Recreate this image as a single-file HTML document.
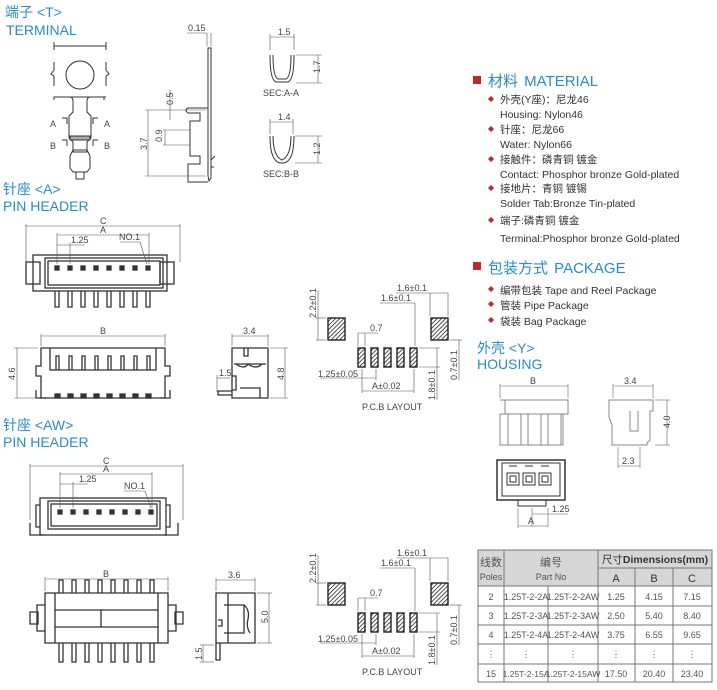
<!DOCTYPE html>
<html><head><meta charset="utf-8"><style>
html,body{margin:0;padding:0;background:#fff;}
svg{display:block;}
.t{font-family:"Liberation Sans","Noto Sans CJK SC",sans-serif;}
</style></head><body>
<svg width="717" height="690" viewBox="0 0 717 690" xmlns="http://www.w3.org/2000/svg" class="t">
<defs>
<pattern id="h" width="3" height="3" patternUnits="userSpaceOnUse" patternTransform="rotate(45)"><rect width="3" height="3" fill="#fff"/><line x1="0" y1="0" x2="0" y2="3" stroke="#222" stroke-width="1.6"/></pattern>
</defs>
<g fill="#2a8cc4" font-size="14">
<text x="5" y="17">端子 &lt;T&gt;</text><text x="6" y="35">TERMINAL</text>
<text x="3" y="194">针座 &lt;A&gt;</text><text x="3" y="211">PIN HEADER</text>
<text x="3" y="430">针座 &lt;AW&gt;</text><text x="3" y="447">PIN HEADER</text>
<text x="477" y="353">外壳 &lt;Y&gt;</text><text x="477" y="369">HOUSING</text>
</g>
<!-- terminal -->
<g fill="none" stroke="#333" stroke-width="1">
<line x1="54" y1="46" x2="106" y2="46"/><line x1="54" y1="42" x2="54" y2="50"/><line x1="106" y1="42" x2="106" y2="50"/>
<circle cx="80" cy="75" r="14"/>
<path d="M54,62 v8 l-3,4 l3,2 v10 M106,62 v8 l3,4 l-3,2 v10"/>
<path d="M54,100 v-3 h50 v3 M54,97 h16 q3,0 3,5 v10 l-4,4 v22 l4,4 v10 h14 v-10 l4,-4 v-22 l-4,-4 v-10 q0,-5 3,-5 h16"/>
<rect x="70" y="136" width="20" height="4" fill="#aaa"/>
<path d="M73,150 l-3,6 v12 l3,4 h14 l3,-4 v-12 l-3,-6z M76,172 v7 h8 v-7"/>
<path d="M62,118 h5 v6 M98,118 h-5 v6 M62,140 h5 v6 M98,140 h-5 v6"/>
<path d="M208,48 h3 v130 l-2,3 l-1,-5z"/>
<path d="M208,108 h-20 q-4,2 0,5 h12 v8 h-10 v35 h10 v8 h-12 v18 h20"/>
<path d="M211,160 l4,-4 M211,167 l3,0"/>
<g stroke="#555" stroke-width=".6">
<line x1="187" y1="33" x2="207" y2="33"/><line x1="207" y1="33" x2="207" y2="46"/><line x1="211" y1="33" x2="211" y2="46"/>
<line x1="145" y1="110" x2="206" y2="110"/><line x1="145" y1="176" x2="206" y2="176"/><line x1="148" y1="110" x2="148" y2="176"/>
<line x1="170" y1="90" x2="170" y2="120"/><line x1="163" y1="130" x2="190" y2="130"/><line x1="163" y1="145" x2="190" y2="145"/><line x1="165" y1="130" x2="165" y2="145"/>
</g>
<path d="M270,55 q0,25 6,27 h12 q6,-2 6,-27 M273,55 q0,22 5,24 h8 q5,-2 5,-24" />
<path d="M270,136 q0,25 10,27 h4 q10,-2 10,-27 M273,136 q0,20 9,24 q9,-4 9,-24"/>
<g stroke="#555" stroke-width=".6">
<line x1="270" y1="37" x2="294" y2="37"/><line x1="270" y1="34" x2="270" y2="50"/><line x1="294" y1="34" x2="294" y2="50"/>
<line x1="296" y1="55" x2="322" y2="55"/><line x1="296" y1="83" x2="322" y2="83"/><line x1="318" y1="55" x2="318" y2="83"/>
<line x1="270" y1="122" x2="293" y2="122"/><line x1="270" y1="119" x2="270" y2="134"/><line x1="293" y1="119" x2="293" y2="134"/>
<line x1="295" y1="136" x2="322" y2="136"/><line x1="295" y1="163" x2="322" y2="163"/><line x1="318" y1="136" x2="318" y2="163"/>
</g>
</g>
<g font-size="9" fill="#444">
<text x="188" y="31">0.15</text><text x="278" y="35">1.5</text><text x="278" y="120">1.4</text>
<text x="263" y="96">SEC:A-A</text><text x="263" y="177">SEC:B-B</text>
<text transform="translate(173,105) rotate(-90)">0.5</text><text transform="translate(162,142) rotate(-90)">0.9</text>
<text transform="translate(147,150) rotate(-90)">3.7</text>
<text transform="translate(320,73) rotate(-90)">1.7</text><text transform="translate(320,155) rotate(-90)">1.2</text>
<text x="50" y="127">A</text><text x="104" y="127">A</text><text x="50" y="149">B</text><text x="104" y="149">B</text>
</g>
<!-- PIN HEADER A -->
<g fill="none" stroke="#333" stroke-width="1.3">
<rect x="33" y="255" width="134" height="36"/><rect x="45" y="258" width="118" height="30"/><rect x="48" y="261" width="112" height="24"/>
<rect x="26" y="262" width="14" height="22"/><rect x="160" y="262" width="14" height="22"/>
<g fill="#333"><rect x="55" y="266" width="4" height="4"/><rect x="68" y="266" width="4" height="4"/><rect x="81" y="266" width="4" height="4"/><rect x="94" y="266" width="4" height="4"/><rect x="107" y="266" width="4" height="4"/><rect x="120" y="266" width="4" height="4"/><rect x="133" y="266" width="4" height="4"/><rect x="146" y="266" width="4" height="4"/></g>
<path d="M55,291 v16 h4 v-16 M68,291 v16 h4 v-16 M81,291 v16 h4 v-16 M94,291 v16 h4 v-16 M107,291 v16 h4 v-16 M120,291 v16 h4 v-16 M133,291 v16 h4 v-16 M146,291 v16 h4 v-16"/>
<g stroke="#555" stroke-width=".6"><line x1="26" y1="226" x2="180" y2="226"/><line x1="26" y1="224" x2="26" y2="262"/><line x1="180" y1="224" x2="180" y2="262"/>
<line x1="57" y1="235" x2="149" y2="235"/><line x1="57" y1="233" x2="57" y2="264"/><line x1="149" y1="233" x2="149" y2="264"/>
<line x1="57" y1="245" x2="85" y2="245"/><line x1="70" y1="243" x2="70" y2="264"/><line x1="120" y1="242" x2="140" y2="242"/><line x1="140" y1="242" x2="147" y2="264"/></g>
<path d="M41,348 h124 v18 h5 v10 h-5 v22 h-124 v-22 h-5 v-10 h5z M50,348 v22 h106 v-22"/>
<path d="M36,390 v8 h10 M170,390 v8 h-10"/>
<path d="M56,370 v-14 h3 v14 M69,370 v-14 h3 v14 M82,370 v-14 h3 v14 M95,370 v-14 h3 v14 M108,370 v-14 h3 v14 M121,370 v-14 h3 v14 M134,370 v-14 h3 v14 M147,370 v-14 h3 v14"/>
<g fill="#333"><rect x="55" y="394" width="5" height="4"/><rect x="68" y="394" width="5" height="4"/><rect x="81" y="394" width="5" height="4"/><rect x="94" y="394" width="5" height="4"/><rect x="107" y="394" width="5" height="4"/><rect x="120" y="394" width="5" height="4"/><rect x="133" y="394" width="5" height="4"/><rect x="146" y="394" width="5" height="4"/></g>
<g stroke="#555" stroke-width=".6"><line x1="41" y1="336" x2="165" y2="336"/><line x1="41" y1="334" x2="41" y2="346"/><line x1="165" y1="334" x2="165" y2="346"/>
<line x1="14" y1="348" x2="38" y2="348"/><line x1="14" y1="398" x2="38" y2="398"/><line x1="17" y1="348" x2="17" y2="398"/></g>
<path d="M232,348 h36 v50 h-36z M244,348 v8 h4 v-8 M234,364 h32 M236,364 q8,6 12,0 q8,6 14,0 M232,376 h4 v14 h-4 M240,388 h20 v10 M232,395 h-14 v-4 h14"/>
<g stroke="#555" stroke-width=".6"><line x1="232" y1="336" x2="268" y2="336"/><line x1="232" y1="334" x2="232" y2="346"/><line x1="268" y1="334" x2="268" y2="346"/>
<line x1="270" y1="348" x2="288" y2="348"/><line x1="270" y1="398" x2="288" y2="398"/><line x1="285" y1="348" x2="285" y2="398"/>
<line x1="217" y1="378" x2="230" y2="378"/><line x1="217" y1="375" x2="217" y2="392"/></g>
</g>
<g font-size="9" fill="#444">
<text x="100" y="224">C</text><text x="100" y="233">A</text><text x="71" y="243">1.25</text><text x="119" y="240">NO.1</text>
<text x="100" y="334">B</text><text x="243" y="334">3.4</text><text x="219" y="376">1.5</text>
<text transform="translate(15,380) rotate(-90)">4.6</text><text transform="translate(284,380) rotate(-90)">4.8</text>
</g>
<!-- PCB layout -->
<g id="pcb">
<g stroke="#222" stroke-width="1.4" fill="url(#h)">
<rect x="328" y="318" width="17" height="22"/><rect x="431" y="318" width="17" height="22"/>
<rect x="358" y="348" width="7" height="19"/><rect x="371" y="348" width="7" height="19"/><rect x="384" y="348" width="7" height="19"/><rect x="397" y="348" width="7" height="19"/><rect x="410" y="348" width="7" height="19"/>
</g>
<g stroke="#555" stroke-width=".6" fill="none">
<line x1="316" y1="318" x2="326" y2="318"/><line x1="316" y1="340" x2="326" y2="340"/><line x1="318" y1="290" x2="318" y2="340"/>
<line x1="430" y1="293" x2="448" y2="293"/><line x1="430" y1="293" x2="430" y2="316"/><line x1="448" y1="293" x2="448" y2="316"/><line x1="396" y1="293" x2="430" y2="293"/>
<line x1="380" y1="303" x2="415" y2="303"/><line x1="415" y1="303" x2="415" y2="346"/>
<line x1="358" y1="333" x2="378" y2="333"/><line x1="358" y1="333" x2="358" y2="346"/><line x1="365" y1="333" x2="365" y2="346"/>
<line x1="320" y1="378" x2="376" y2="378"/><line x1="376" y1="369" x2="376" y2="380"/>
<line x1="362" y1="391" x2="414" y2="391"/><line x1="362" y1="369" x2="362" y2="393"/><line x1="414" y1="369" x2="414" y2="393"/>
<line x1="419" y1="348" x2="440" y2="348"/><line x1="419" y1="367" x2="440" y2="367"/><line x1="437" y1="348" x2="437" y2="400"/>
<line x1="450" y1="340" x2="462" y2="340"/><line x1="459" y1="340" x2="459" y2="380"/>
</g>
<g font-size="9" fill="#444">
<text x="397" y="291">1.6±0.1</text><text x="381" y="301">1.6±0.1</text><text x="370" y="331">0.7</text>
<text x="318" y="377">1.25±0.05</text><text x="372" y="389">A±0.02</text><text x="362" y="410">P.C.B LAYOUT</text>
<text transform="translate(316,318) rotate(-90)">2.2±0.1</text><text transform="translate(435,400) rotate(-90)">1.8±0.1</text><text transform="translate(457,380) rotate(-90)">0.7±0.1</text>
</g>
</g>
<use href="#pcb" transform="translate(0,265)"/>
<!-- PIN HEADER AW -->
<g fill="none" stroke="#333" stroke-width="1.3">
<rect x="40" y="498" width="126" height="37"/><rect x="48" y="501" width="112" height="28"/><rect x="51" y="504" width="106" height="22"/>
<path d="M40,505 h-4 v22 h4 M166,505 h4 v22 h-4 M30,523 v12 h14 M178,523 v12 h-14"/>
<g fill="#333"><rect x="58" y="510" width="4" height="4"/><rect x="71" y="510" width="4" height="4"/><rect x="84" y="510" width="4" height="4"/><rect x="97" y="510" width="4" height="4"/><rect x="110" y="510" width="4" height="4"/><rect x="123" y="510" width="4" height="4"/><rect x="136" y="510" width="4" height="4"/><rect x="149" y="510" width="4" height="4"/></g>
<g stroke="#555" stroke-width=".6"><line x1="30" y1="466" x2="183" y2="466"/><line x1="30" y1="464" x2="30" y2="520"/><line x1="183" y1="464" x2="183" y2="520"/>
<line x1="60" y1="474" x2="152" y2="474"/><line x1="60" y1="472" x2="60" y2="508"/><line x1="152" y1="472" x2="152" y2="508"/>
<line x1="60" y1="484" x2="88" y2="484"/><line x1="73" y1="482" x2="73" y2="508"/><line x1="124" y1="491" x2="145" y2="491"/><line x1="145" y1="491" x2="151" y2="508"/></g>
<path d="M45,593 h123 v50 h-123z M55,593 v50 M158,593 v50 M55,610 h103 M55,627 h103 M101,610 v17"/>
<path d="M45,605 h-8 v26 h8 M168,605 h8 v26 h-8 M30,612 h8 v12 h-8z M183,612 h-8 v12 h8z"/>
<path d="M59,593 v-13 h4 v13 M72,593 v-13 h4 v13 M85,593 v-13 h4 v13 M98,593 v-13 h4 v13 M111,593 v-13 h4 v13 M124,593 v-13 h4 v13 M137,593 v-13 h4 v13 M150,593 v-13 h4 v13"/>
<path d="M59,643 v19 h4 v-19 M72,643 v19 h4 v-19 M85,643 v19 h4 v-19 M98,643 v19 h4 v-19 M111,643 v19 h4 v-19 M124,643 v19 h4 v-19 M137,643 v19 h4 v-19 M150,643 v19 h4 v-19"/>
<g stroke="#555" stroke-width=".6"><line x1="45" y1="579" x2="168" y2="579"/><line x1="45" y1="577" x2="45" y2="591"/><line x1="168" y1="577" x2="168" y2="591"/></g>
<path d="M216,593 h39 v50 h-39z M228,593 v50 M224,605 h20 v28 h-20 M244,605 q6,5 4,14 q-2,8 2,14 M218,620 h4 v6 h-4 M216,643 v17 h4 v-17"/>
<g stroke="#555" stroke-width=".6"><line x1="216" y1="580" x2="255" y2="580"/><line x1="216" y1="578" x2="216" y2="591"/><line x1="255" y1="578" x2="255" y2="591"/>
<line x1="257" y1="593" x2="272" y2="593"/><line x1="257" y1="643" x2="272" y2="643"/><line x1="269" y1="593" x2="269" y2="643"/>
<line x1="200" y1="645" x2="214" y2="645"/><line x1="200" y1="662" x2="214" y2="662"/><line x1="203" y1="645" x2="203" y2="662"/></g>
</g>
<g font-size="9" fill="#444">
<text x="103" y="464">C</text><text x="103" y="472">A</text><text x="79" y="482">1.25</text><text x="124" y="489">NO.1</text>
<text x="103" y="577">B</text><text x="228" y="578">3.6</text>
<text transform="translate(268,623) rotate(-90)">5.0</text><text transform="translate(202,660) rotate(-90)">1.5</text>
</g>
<!-- housing -->
<g fill="none" stroke="#888" stroke-width="1">
<path d="M500,400 h68 v14 h-5 v31 h-63 v-31 h5 v-14 M505,414 h58 M508,414 v31 M521,414 v31 M528,414 v31 M541,414 v31 M548,414 v31 M561,414 v31"/>
<path d="M613,400 h40 v11 h-3 v29 l-3,3 v2 h-35 v-20 l-3,-8 v-17z M630,411 v20 h8 v-20"/>
</g>
<g fill="none" stroke="#333" stroke-width="1">
<rect x="497" y="460" width="68" height="40" stroke-width="1.5"/><rect x="502" y="463" width="58" height="33"/>
<rect x="507" y="473" width="12" height="12"/><rect x="523" y="473" width="12" height="12"/><rect x="539" y="473" width="12" height="12"/>
<rect x="510" y="476" width="6" height="6"/><rect x="526" y="476" width="6" height="6"/><rect x="542" y="476" width="6" height="6"/>
<path d="M509,466 h8 M525,466 h8 M541,466 h8 M518,500 v6 h28 v-6"/>
</g>
<g stroke="#666" stroke-width=".6" fill="none">
<line x1="500" y1="386" x2="568" y2="386"/><line x1="500" y1="384" x2="500" y2="398"/><line x1="568" y1="384" x2="568" y2="398"/>
<line x1="613" y1="386" x2="653" y2="386"/><line x1="613" y1="384" x2="613" y2="398"/><line x1="653" y1="384" x2="653" y2="398"/>
<line x1="655" y1="400" x2="670" y2="400"/><line x1="655" y1="445" x2="670" y2="445"/><line x1="667" y1="400" x2="667" y2="445"/>
<line x1="618" y1="466" x2="640" y2="466"/><line x1="618" y1="447" x2="618" y2="468"/><line x1="640" y1="447" x2="640" y2="468"/>
<line x1="532" y1="508" x2="532" y2="527"/><line x1="532" y1="514" x2="568" y2="514"/><line x1="548" y1="508" x2="548" y2="527"/>
<line x1="518" y1="526" x2="548" y2="526"/><line x1="518" y1="508" x2="518" y2="528"/>
</g>
<g font-size="9" fill="#444">
<text x="530" y="384">B</text><text x="624" y="384">3.4</text><text x="622" y="464">2.3</text><text x="552" y="512">1.25</text><text x="528" y="524">A</text>
<text transform="translate(670,428) rotate(-90)">4.0</text>
</g>
<!-- material -->
<g>
<rect x="473" y="76" width="8" height="8" fill="#c0262d"/>
<text x="488" y="86" font-size="15" fill="#2a8cc4">材料 <tspan dx="2">MATERIAL</tspan></text>
<rect x="473" y="262" width="8" height="8" fill="#c0262d"/>
<text x="488" y="273" font-size="15" fill="#2a8cc4">包装方式 <tspan dx="2">PACKAGE</tspan></text>
<g fill="#c0262d"><path d="M491,96 l3,3 l-3,3 l-3,-3z"/><path d="M491,126 l3,3 l-3,3 l-3,-3z"/><path d="M491,156 l3,3 l-3,3 l-3,-3z"/><path d="M491,185 l3,3 l-3,3 l-3,-3z"/><path d="M491,217 l3,3 l-3,3 l-3,-3z"/>
<path d="M491,286 l3,3 l-3,3 l-3,-3z"/><path d="M491,301 l3,3 l-3,3 l-3,-3z"/><path d="M491,317 l3,3 l-3,3 l-3,-3z"/></g>
<g font-size="10.5" fill="#333">
<text x="500" y="103">外壳(Y座)：尼龙46</text><text x="500" y="118">Housing:  Nylon46</text>
<text x="500" y="133">针座：尼龙66</text><text x="500" y="148">Water:  Nylon66</text>
<text x="500" y="163">接触件：磷青铜 镀金</text><text x="500" y="178">Contact:  Phosphor bronze Gold-plated</text>
<text x="500" y="192">接地片：青铜 镀锡</text><text x="500" y="207">Solder Tab:Bronze Tin-plated</text>
<text x="500" y="224">端子:磷青铜 镀金</text><text x="500" y="242">Terminal:Phosphor bronze Gold-plated</text>
<text x="500" y="294">编带包装  Tape and Reel Package</text>
<text x="500" y="309">管装  Pipe Package</text>
<text x="500" y="325">袋装  Bag Package</text>
</g>
</g>
<!-- table -->
<g>
<rect x="478" y="550" width="234" height="36" fill="#d6d6d6"/>
<g stroke="#777" stroke-width="1" fill="none">
<rect x="478" y="550" width="234" height="132"/>
<line x1="504" y1="550" x2="504" y2="682"/><line x1="598" y1="550" x2="598" y2="682"/>
<line x1="548" y1="586" x2="548" y2="682"/><line x1="635" y1="568" x2="635" y2="682"/><line x1="673" y1="568" x2="673" y2="682"/>
<line x1="598" y1="568" x2="712" y2="568"/>
<line x1="478" y1="586" x2="712" y2="586"/><line x1="478" y1="606" x2="712" y2="606"/><line x1="478" y1="625" x2="712" y2="625"/><line x1="478" y1="644" x2="712" y2="644"/><line x1="478" y1="664" x2="712" y2="664"/>
</g>
<g font-size="9" fill="#555" text-anchor="middle">
<text x="491" y="566" font-size="11">线数</text><text x="491" y="580">Poles</text>
<text x="551" y="566" font-size="11">编号</text><text x="551" y="580">Part No</text>
<text x="655" y="563" font-size="10.5" fill="#333">尺寸<tspan font-weight="bold">Dimensions(mm)</tspan></text>
<text x="616" y="582" font-size="11" fill="#333">A</text><text x="654" y="582" font-size="11" fill="#333">B</text><text x="692" y="582" font-size="11" fill="#333">C</text>
<text x="491" y="600">2</text><text x="526" y="600">1.25T-2-2A</text><text x="573" y="600">1.25T-2-2AW</text><text x="616" y="600">1.25</text><text x="654" y="600">4.15</text><text x="692" y="600">7.15</text>
<text x="491" y="619">3</text><text x="526" y="619">1.25T-2-3A</text><text x="573" y="619">1.25T-2-3AW</text><text x="616" y="619">2.50</text><text x="654" y="619">5.40</text><text x="692" y="619">8.40</text>
<text x="491" y="638">4</text><text x="526" y="638">1.25T-2-4A</text><text x="573" y="638">1.25T-2-4AW</text><text x="616" y="638">3.75</text><text x="654" y="638">6.55</text><text x="692" y="638">9.65</text>
<text x="491" y="657">⋮</text><text x="526" y="657">⋮</text><text x="573" y="657">⋮</text><text x="616" y="657">⋮</text><text x="654" y="657">⋮</text><text x="692" y="657">⋮</text>
<text x="491" y="677">15</text><text x="526" y="677" font-size="8.5">1.25T-2-15A</text><text x="573" y="677" font-size="8.5">1.25T-2-15AW</text><text x="616" y="677">17.50</text><text x="654" y="677">20.40</text><text x="692" y="677">23.40</text>
</g>
</g>
</svg>
</body></html>
